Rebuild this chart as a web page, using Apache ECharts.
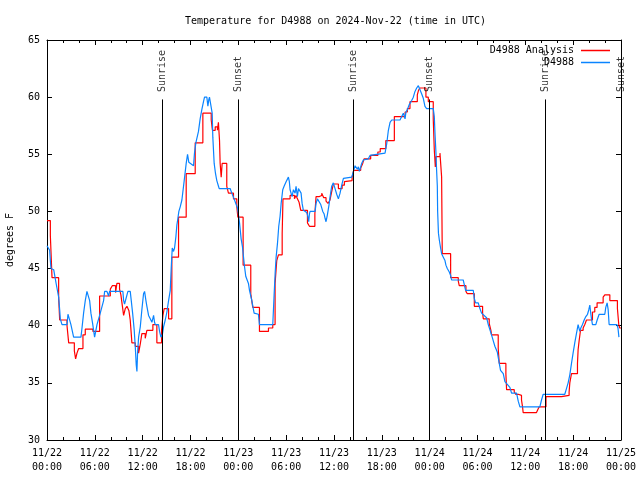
<!DOCTYPE html>
<html>
<head>
<meta charset="utf-8">
<script src="https://cdn.jsdelivr.net/npm/echarts@6/dist/echarts.min.js"></script>
<style>
html,body{margin:0;padding:0;background:#fff;}
#chart{width:640px;height:480px;}
</style>
</head>
<body>
<div id="chart"></div>
<script>
// ---- data (hours since 2024-11-22 00:00 UTC, degrees F) ----
const xTickLabels = ["11/22\n00:00","11/22\n06:00","11/22\n12:00","11/22\n18:00","11/23\n00:00","11/23\n06:00","11/23\n12:00","11/23\n18:00","11/24\n00:00","11/24\n06:00","11/24\n12:00","11/24\n18:00","11/25\n00:00"];

const obsHours = [0.0,0.33,0.42,0.5,0.84,1.04,1.25,1.46,1.59,1.67,1.88,2.51,2.63,2.8,3.0,3.34,4.26,4.39,4.59,4.8,5.01,5.22,5.35,5.51,5.72,5.97,6.27,6.68,7.1,7.23,7.52,7.73,7.85,9.52,9.61,9.73,9.94,10.15,10.44,10.57,10.74,10.94,11.07,11.19,11.28,11.36,11.49,11.7,11.9,12.11,12.24,12.41,12.53,12.74,12.95,13.16,13.37,13.49,13.58,13.99,14.12,14.29,14.49,14.62,14.83,15.04,15.25,15.46,15.58,15.71,15.87,16.0,16.17,16.29,16.42,16.54,16.71,16.92,17.21,17.46,17.63,17.79,18.38,18.5,18.67,19.0,19.21,19.42,19.63,19.76,20.05,20.18,20.3,20.38,20.63,20.72,20.8,20.97,21.14,21.3,21.51,21.6,22.97,23.18,23.47,23.73,23.9,24.0,24.15,24.35,24.52,24.65,24.77,24.94,25.15,25.27,25.4,25.69,25.98,26.52,26.65,28.32,28.49,28.62,28.74,28.91,29.07,29.24,29.37,29.57,29.74,29.99,30.28,30.4,30.49,30.74,30.91,31.12,31.24,31.41,31.54,31.75,31.87,32.0,32.16,32.58,32.71,32.83,32.92,33.0,33.63,33.75,33.92,34.17,34.34,34.59,34.75,34.88,35.0,35.17,35.38,35.51,35.71,35.92,36.13,36.34,36.55,36.76,36.97,37.18,37.39,38.23,38.43,38.64,38.76,38.93,39.06,39.18,39.35,39.47,39.68,40.31,40.52,42.4,42.61,42.82,43.03,43.24,44.28,44.49,44.7,44.91,45.03,45.2,45.41,45.74,45.95,46.16,46.37,46.58,46.78,46.99,47.2,47.41,47.62,48.45,48.58,48.67,48.79,48.87,48.96,49.0,49.1,49.21,49.37,49.5,49.71,49.92,50.04,50.21,50.46,50.63,50.75,52.21,52.34,52.51,53.47,53.59,53.76,54.09,54.3,54.51,55.14,55.35,55.56,55.76,55.97,56.18,56.48,56.73,56.89,57.23,57.44,57.56,58.06,58.27,58.9,59.11,59.32,61.82,62.03,62.24,64.95,65.16,65.37,65.58,65.79,65.99,66.2,66.41,66.62,66.83,66.96,67.17,67.38,67.59,67.8,67.96,68.09,68.22,68.3,68.42,68.84,69.01,69.26,69.97,70.09,70.26,70.39,70.51,71.49,71.62,71.74];
const obsTemps = [47.0,46.6,45.7,45.0,44.9,44.1,43.3,42.5,41.4,40.6,40.1,40.1,41.0,40.6,40.1,39.0,39.0,39.8,41.1,42.2,43.0,43.0,42.2,41.1,40.2,39.0,40.1,41.1,42.2,43.0,43.0,42.6,43.0,43.0,42.2,41.9,41.9,43.0,43.0,42.2,41.1,39.6,38.2,36.6,36.0,37.6,39.0,39.9,41.4,42.8,43.0,42.2,41.7,40.9,40.6,40.3,40.9,40.3,40.1,40.1,39.5,39.0,39.3,39.9,40.5,41.2,42.2,43.1,45.0,46.8,46.5,46.8,47.8,48.8,49.4,50.0,50.4,51.0,52.7,54.2,55.0,54.3,54.0,55.1,56.0,57.0,58.1,58.9,59.6,60.0,60.0,59.2,59.8,60.0,60.0,58.6,56.5,54.2,53.3,52.7,52.2,52.0,52.0,51.6,51.1,50.6,50.3,49.8,49.0,47.6,46.9,46.0,45.2,44.3,44.2,43.7,43.1,42.2,41.1,41.0,40.1,40.1,42.7,44.6,46.0,47.2,48.7,49.6,50.7,51.9,52.2,52.6,53.0,52.6,51.9,51.3,51.9,51.6,52.2,51.3,52.0,52.0,51.6,50.7,50.1,49.9,49.6,49.1,49.8,50.0,50.0,50.7,51.1,51.0,50.6,50.0,49.8,49.4,49.1,49.7,50.6,51.3,52.2,52.5,52.0,51.5,51.1,51.6,52.3,52.9,53.0,53.0,53.5,54.0,53.9,53.7,53.9,53.5,53.9,54.2,54.5,54.6,54.9,55.1,55.9,57.1,57.8,58.0,58.0,58.3,58.6,58.1,58.7,58.9,59.3,59.7,60.0,60.5,60.8,61.0,60.9,60.3,59.9,59.2,59.0,59.0,58.3,56.8,55.1,53.6,52.2,50.0,48.1,47.5,46.8,46.3,46.0,45.7,45.3,45.0,44.7,44.4,44.0,44.0,43.6,43.1,43.1,42.4,42.0,42.0,41.5,41.1,40.7,40.1,40.0,39.2,38.7,38.2,37.7,36.7,36.1,35.8,35.1,35.0,34.6,34.1,34.1,33.4,32.9,32.9,33.5,34.0,34.0,34.5,35.0,35.7,36.7,37.6,38.5,39.3,40.1,39.5,39.8,40.1,40.5,40.8,41.0,41.4,41.8,41.0,40.6,40.1,40.1,40.5,41.0,41.0,41.6,42.0,41.4,40.1,40.1,39.8,39.0];

const anaHours = [0.0,0.42,0.63,1.46,1.59,2.51,2.72,3.43,3.59,3.76,3.97,4.51,4.8,5.76,6.6,7.94,8.19,8.6,8.77,9.1,9.27,9.44,9.61,9.82,10.03,10.28,10.44,10.65,11.07,11.49,11.7,11.9,12.32,12.53,13.28,13.78,14.37,14.54,14.7,15.25,15.66,16.5,17.46,18.59,19.55,20.6,20.75,21.1,21.38,21.5,21.64,21.72,21.85,21.97,22.55,22.76,23.39,23.81,23.94,24.6,25.56,25.81,26.65,27.78,28.32,28.61,28.82,29.03,29.5,29.6,30.49,31.04,31.24,31.41,31.62,31.83,32.67,32.92,33.6,33.75,34.17,34.46,34.71,35.0,35.25,35.5,35.67,35.92,36.55,37.02,37.3,37.5,38.27,38.48,39.35,39.6,39.77,40.6,41.5,41.8,42.5,43.57,44.92,45.2,45.53,46.45,46.6,46.78,47.53,47.83,48.45,48.58,48.71,48.79,49.29,49.5,49.58,50.63,51.59,51.71,52.55,52.72,53.6,54.64,54.73,55.47,55.68,55.76,56.6,56.73,57.56,57.65,58.61,58.81,59.11,59.52,59.65,59.73,61.4,61.53,61.74,62.59,64.53,65.49,65.58,65.79,66.54,66.62,66.75,66.92,67.25,67.46,67.67,68.42,68.71,69.0,69.76,69.97,70.6,71.55,71.72,71.84,72.0];
const anaTemps = [49.2,47.9,44.2,42.5,40.5,40.0,38.5,37.8,37.1,37.6,38.0,39.2,39.7,39.5,42.6,43.2,43.5,42.9,43.7,43.2,42.7,41.8,40.9,41.5,41.7,41.3,40.5,38.5,38.2,37.6,38.4,39.3,38.9,39.6,40.1,38.5,39.6,40.9,41.5,40.6,46.0,49.5,53.3,56.0,58.6,58.0,57.1,57.4,57.1,57.8,56.2,54.2,53.0,54.2,52.2,51.6,51.1,50.4,49.5,45.3,42.8,41.6,39.5,39.8,40.1,43.7,45.7,46.2,48.1,51.1,51.4,51.1,51.4,51.1,50.8,50.1,49.0,48.7,49.8,51.3,51.4,51.6,51.2,50.9,50.7,51.0,51.6,52.4,52.0,52.3,52.6,52.7,53.0,53.6,53.8,54.2,54.6,54.9,55.2,55.5,56.2,58.3,58.7,59.0,59.6,60.2,60.6,60.8,60.0,59.6,58.1,55.4,53.9,54.8,55.1,53.0,46.3,44.2,43.9,43.5,43.0,42.8,41.7,41.1,40.6,40.2,39.6,39.2,38.0,36.7,35.8,34.4,34.2,34.0,33.9,33.5,32.9,32.4,32.3,32.6,32.9,33.8,33.9,34.2,35.0,35.8,36.7,37.9,38.7,39.6,39.8,40.1,40.5,41.2,41.6,42.0,42.5,42.7,42.2,41.5,40.1,39.8,39.8];

const eventHours = [14.49, 24.01, 38.43, 47.95, 62.48, 72.0];
const eventNames = ["Sunrise","Sunset","Sunrise","Sunset","Sunrise","Sunset"];

// ---- layout constants ----
const FONT = "DejaVu Sans Mono";
const LINE_TOP = 59.8;    // value where sun lines stop
const LABEL_BASE = 60.45; // value where rotated labels start

const zip = (a, b) => a.map((v, i) => [v, b[i]]);

const chart = echarts.init(document.getElementById('chart'), null, {renderer: 'canvas', width: 640, height: 480, devicePixelRatio: 1});

const axisCommon = {
  type: 'value',
  axisLine: {show: true, onZero: false, lineStyle: {color: '#000', width: 1}},
  splitLine: {show: false},
};

const legendCommon = {
  right: 30, padding: 0, itemWidth: 29, itemHeight: 1.5, icon: 'rect', align: 'right',
  selectedMode: false,
  textStyle: {fontFamily: FONT, fontSize: 10, color: '#000', padding: [0, 2, 0, 0]}
};

const option = {
  animation: false,
  backgroundColor: '#fff',
  textStyle: {fontFamily: FONT},
  title: {
    text: 'Temperature for D4988 on 2024-Nov-22 (time in UTC)',
    left: 180, top: 11,
    textStyle: {fontFamily: FONT, fontSize: 10, fontWeight: 'normal', color: '#000'}
  },
  legend: [
    Object.assign({}, legendCommon, {data: ['D4988 Analysis'], top: 45.5}),
    Object.assign({}, legendCommon, {data: ['D4988'], top: 57.5})
  ],
  grid: {left: 47, right: 19, top: 40, bottom: 40, containLabel: false, outerBoundsMode: 'none'},
  xAxis: [
    Object.assign({}, axisCommon, {
      position: 'bottom', min: 0, max: 72, interval: 6,
      axisTick: {show: true, inside: true, length: 5, lineStyle: {color: '#000'}},
      minorTick: {show: true, splitNumber: 3, length: 3, lineStyle: {color: '#000'}},
      axisLabel: {show: true, margin: 6, fontFamily: FONT, fontSize: 10, lineHeight: 14, color: '#000',
        formatter: v => xTickLabels[Math.round(v / 6)]}
    }),
    Object.assign({}, axisCommon, {
      position: 'top', min: 0, max: 72, interval: 6,
      axisTick: {show: true, inside: true, length: 5, lineStyle: {color: '#000'}},
      minorTick: {show: true, splitNumber: 3, length: 3, lineStyle: {color: '#000'}},
      axisLabel: {show: false}
    })
  ],
  yAxis: [
    Object.assign({}, axisCommon, {
      position: 'left', min: 30, max: 65, interval: 5,
      name: 'degrees F', nameLocation: 'middle', nameGap: 32, nameRotate: 90,
      nameTextStyle: {fontFamily: FONT, fontSize: 10, color: '#000'},
      axisTick: {show: true, inside: true, length: 5, lineStyle: {color: '#000'}},
      axisLabel: {show: true, margin: 7, fontFamily: FONT, fontSize: 10, color: '#000'}
    }),
    Object.assign({}, axisCommon, {
      position: 'right', min: 30, max: 65, interval: 5,
      axisTick: {show: true, inside: true, length: 5, lineStyle: {color: '#000'}},
      axisLabel: {show: false}
    })
  ],
  series: [
    {
      name: 'D4988 Analysis', type: 'line', step: 'end',
      data: zip(anaHours, anaTemps),
      showSymbol: false, symbol: 'none',
      lineStyle: {color: '#ff0000', width: 1.2}, itemStyle: {color: '#ff0000'},
      z: 3
    },
    {
      name: 'D4988', type: 'line',
      data: zip(obsHours, obsTemps),
      showSymbol: false, symbol: 'none',
      lineStyle: {color: '#0a84ff', width: 1.2}, itemStyle: {color: '#0a84ff'},
      z: 4
    },
    {
      name: 'sun', type: 'scatter', clip: false,
      data: eventHours.map(h => [h, LABEL_BASE]),
      symbolSize: 1, itemStyle: {color: 'rgba(0,0,0,0)'},
      silent: true, z: 5,
      label: {show: true, position: 'inside', rotate: 90, align: 'left', verticalAlign: 'middle',
        fontFamily: FONT, fontSize: 10, color: '#000',
        formatter: p => eventNames[p.dataIndex]},
      markLine: {
        silent: true, symbol: ['none', 'none'], animation: false,
        lineStyle: {color: '#000', width: 1, type: 'solid'},
        label: {show: false},
        data: eventHours.map(h => [{coord: [h, 30]}, {coord: [h, LINE_TOP]}])
      }
    }
  ]
};
chart.setOption(option);
</script>
</body>
</html>
